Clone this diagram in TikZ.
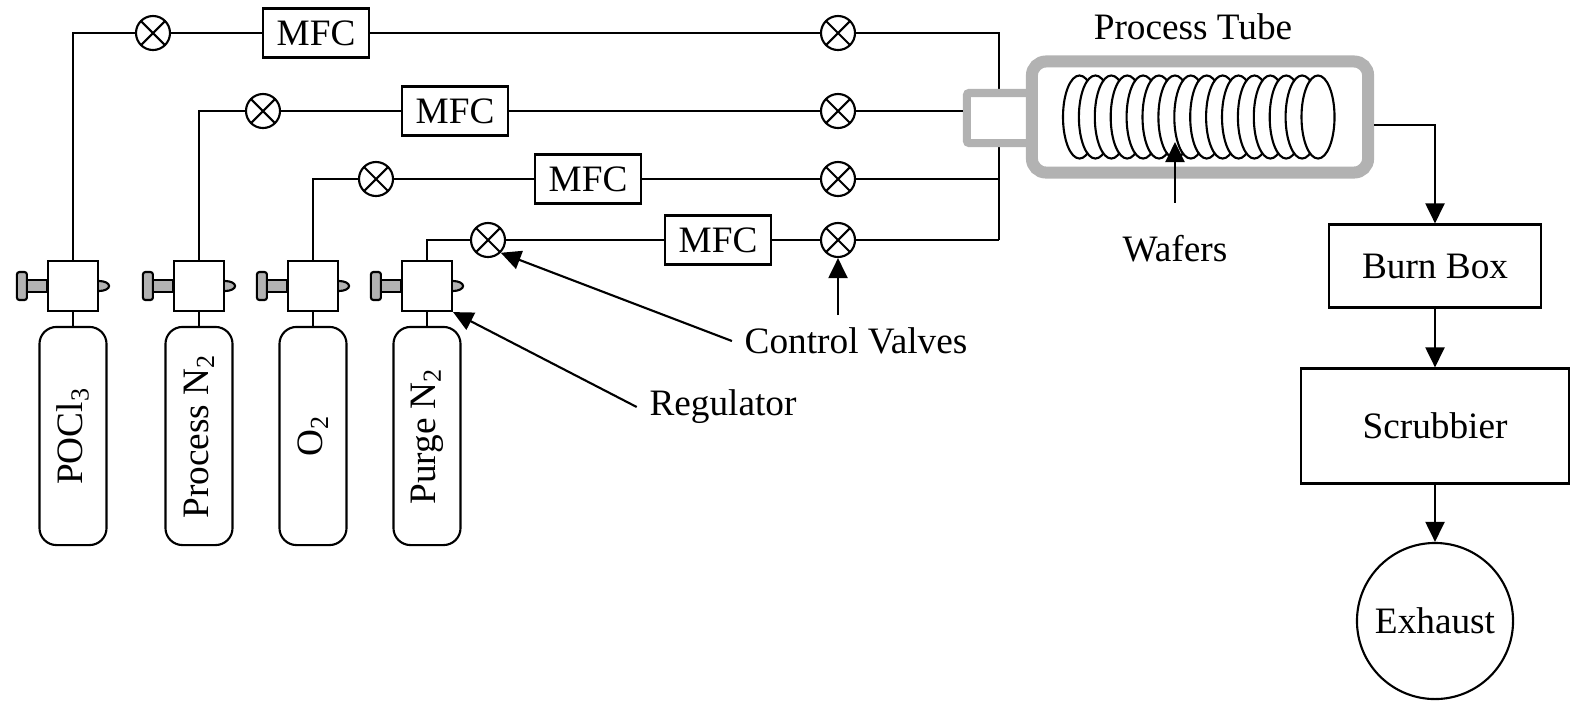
\documentclass[tikz,border=0pt]{standalone}
\usepackage{fontspec}
\setmainfont{Liberation Serif}
\usepackage{tikz}
\usetikzlibrary{shapes,arrows.meta}

\tikzset{
  valve/.style = {draw, circle, fill = white, minimum size = 0.34cm, inner sep = 0pt,
    path picture = {\draw (path picture bounding box.north west) -- (path picture bounding box.south east)
                          (path picture bounding box.north east) -- (path picture bounding box.south west);}},
  mfc/.style = {draw, fill = white, minimum width = 1.06cm, minimum height = 0.49cm, inner sep = 0pt},
  reg/.style = {draw, fill = white, minimum width = 0.50cm, minimum height = 0.50cm, inner sep = 0pt},
  bottle/.style = {draw, rounded corners = 0.17cm, rotate = 90, minimum width = 2.18cm,
    minimum height = 0.67cm, inner sep = 0pt},
  unit/.style = {draw, inner sep = 0pt}
}

\begin{document}
\begin{tikzpicture}[x = 0.01cm, y = -0.01cm, line width = 0.6pt,
    font = \fontsize{10.6}{12.5}\selectfont,
    >={Triangle[length = 0.2cm, width = 0.19cm]}]
	\useasboundingbox (0,0) rectangle (1570,705);

	% gas bottles and regulators
	\node[reg] (r1) at (73,286) {};
	\node[reg] (r2) at (199,286) {};
	\node[reg] (r3) at (313,286) {};
	\node[reg] (r4) at (427,286) {};
	\node[bottle] (b1) at (73,436) {POCl\textsubscript{3}};
	\node[bottle] (b2) at (199,436) {Process N\textsubscript{2}};
	\node[bottle] (b3) at (313,436) {O\textsubscript{2}};
	\node[bottle] (b4) at (427,436) {Purge N\textsubscript{2}};
	\foreach \r/\b in {r1/b1, r2/b2, r3/b3, r4/b4} {
		\draw (\r) -- (\b);
		\draw[fill = black!30] ([yshift = 0.06cm]\r.west) rectangle ([xshift = -0.2cm, yshift = -0.06cm]\r.west);
		\draw[fill = black!30, rounded corners = 0.025cm] ([xshift = -0.2cm, yshift = 0.14cm]\r.west)
			rectangle ([xshift = -0.3cm, yshift = -0.14cm]\r.west);
		\draw[fill = black!30] ([yshift = 0.05cm]\r.east) arc[start angle = 90, end angle = -90,
			x radius = 0.1cm, y radius = 0.05cm];
	}

	% valves and flow controllers
	\node[valve] (v1) at (153,33) {};
	\node[valve] (v2) at (263,111) {};
	\node[valve] (v3) at (376,179) {};
	\node[valve] (v4) at (488,240) {};
	\node[valve] (v5) at (838,33) {};
	\node[valve] (v6) at (838,111) {};
	\node[valve] (v7) at (838,179) {};
	\node[valve] (v8) at (838,240) {};
	\node[mfc] (m1) at (316,33) {MFC};
	\node[mfc] (m2) at (455,111) {MFC};
	\node[mfc] (m3) at (588,179) {MFC};
	\node[mfc] (m4) at (718,240) {MFC};

	% gas lines into the manifold
	\coordinate (j1) at (999,33);
	\coordinate (j3) at (999,179);
	\coordinate (j4) at (999,240);
	\draw (r1) |- (v1) -- (m1) -- (v5) -- (j1) -- (j4);
	\draw (r3) |- (v3) -- (m3) -- (v7) -- (j3);
	\draw (r4) |- (v4) -- (m4) -- (v8) -- (j4);
	\node[draw = black!30, line width = 0.08cm, fill = white, rounded corners = 0.02cm,
		minimum width = 0.72cm, minimum height = 0.50cm, inner sep = 0pt] (inlet) at (1003,118) {};
	\draw (r2) |- (v2) -- (m2) -- (v6) -- (v6 -| inlet.west);

	% furnace tube with wafers
	\node[draw = black!30, line width = 0.12cm, fill = white, rounded corners = 0.14cm,
		minimum width = 3.36cm, minimum height = 1.11cm, inner sep = 0pt] (tube) at (1200,117) {};
	\foreach \i in {0,...,15}
		\draw[fill = white] (1079.5+15.9*\i,117) ellipse [x radius = 0.165cm, y radius = 0.415cm];
	\node (pt) at (1193,27) {Process Tube};
	\node (wf) at (1175,249) {Wafers};
	\coordinate (wtip) at (1175,142);
	\draw[->, shorten <= 0.2cm] (wf.north) -- (wtip);

	% exhaust treatment
	\node[unit, minimum width = 2.12cm, minimum height = 0.83cm] (burn) at (1435,266) {Burn Box};
	\node[unit, minimum width = 2.67cm, minimum height = 1.15cm] (scrub) at (1435,426) {Scrubbier};
	\node[unit, circle, minimum size = 1.56cm] (exh) at (1435,621) {Exhaust};
	\coordinate (out) at (1374,125);
	\draw[->] (out) -| (burn);
	\draw[->] (burn) -- (scrub);
	\draw[->] (scrub) -- (exh);

	% callouts
	\node (cv) at (856,341) {Control Valves};
	\node (rg) at (723,407) {Regulator};
	\draw[->] (cv.west) -- (v4.south east);
	\draw[->] (v8 |- cv.north) -- (v8);
	\draw[->] (rg.west) -- (r4.south east);
\end{tikzpicture}
\end{document}
